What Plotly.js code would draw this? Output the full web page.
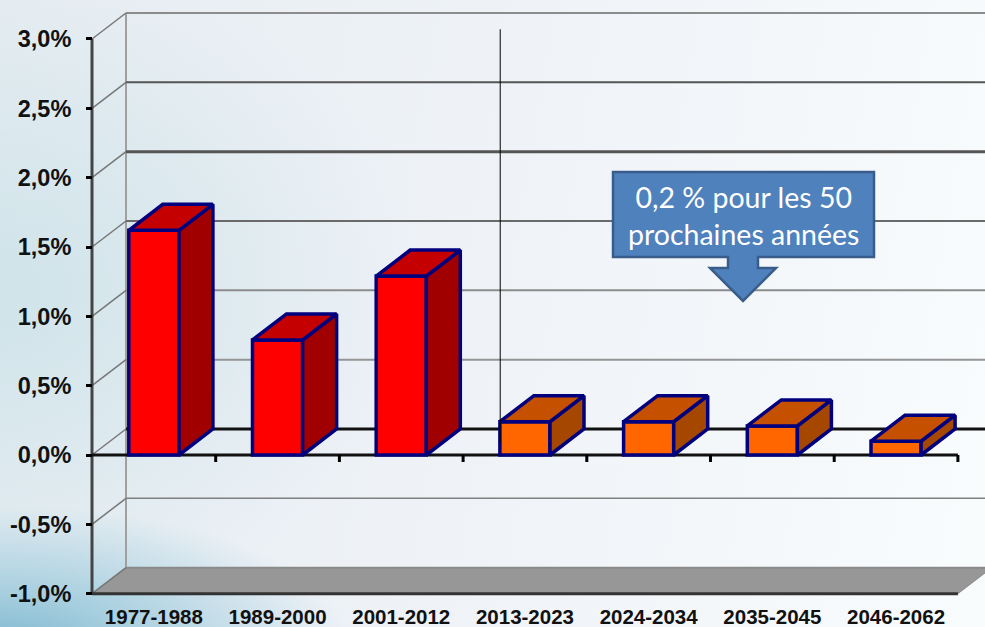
<!DOCTYPE html>
<html>
<head>
<meta charset="utf-8">
<script src="https://cdn.plot.ly/plotly-3.0.1.min.js"></script>
<style>
html,body{margin:0;padding:0;width:985px;height:627px;overflow:hidden;}
body{background:
 radial-gradient(ellipse 350px 140px at 0px 645px, rgba(125,184,207,.98) 0%, rgba(155,201,219,.8) 40%, rgba(205,228,236,0) 100%),
 radial-gradient(ellipse 420px 330px at 0px 290px, rgba(203,226,232,.85) 0%, rgba(220,234,240,0) 100%),
 linear-gradient(100deg, #e7edf2 0%, #eef2f7 45%, #f9fcfd 100%);}
#chart{width:985px;height:627px;}
</style>
</head>
<body>
<div id="chart"></div>
<script>
const categories = ["1977-1988","1989-2000","2001-2012","2013-2023","2024-2034","2035-2045","2046-2062"];
const growth = [1.62, 0.83, 1.29, 0.24, 0.24, 0.21, 0.1];
const historical = [0, 1, 2];
const projected = [3, 4, 5, 6];
const yTicks = [-1, -0.5, 0, 0.5, 1, 1.5, 2, 2.5, 3];
const yLabels = ["-1,0%","-0,5%","0,0%","0,5%","1,0%","1,5%","2,0%","2,5%","3,0%"];
const gridColors = ["#8a8a8a","#808080","#111111","#959595","#8c8c8c","#6a6a6a","#555555","#555555","#8c8c8c"];
const gridWidths = [2, 1.5, 3, 2, 2, 2, 3, 2, 2];

// chart geometry (pseudo-3D depth expressed in axis units)
const W = 985, H = 627, AX = 92, CAT = 123.7, Y0 = 455, UNIT = 138.67, BOT = 27;
const DX = 34 / CAT, DY = 26 / UNIT, BW = 0.405;
const xLo = -0.5 - AX / CAT, xHi = -0.5 + (W - AX) / CAT;
const yHi = Y0 / UNIT, yLo = -(H - BOT - Y0) / UNIT;
const xL = -0.5, xR = categories.length - 0.5;
const NAVY = "#00007f";

function poly(indexes, corners) {
  const xs = [], ys = [];
  indexes.forEach(i => {
    corners(i, growth[i]).forEach(p => { xs.push(p[0]); ys.push(p[1]); });
    xs.push(null); ys.push(null);
  });
  return {x: xs, y: ys};
}
const sideCorners = (i, v) => {
  const r = i + BW / 2;
  return [[r, 0], [r + DX, DY], [r + DX, v + DY], [r, v], [r, 0]];
};
const topCorners = (i, v) => {
  const l = i - BW / 2, r = i + BW / 2;
  return [[l, v], [r, v], [r + DX, v + DY], [l + DX, v + DY], [l, v]];
};
function face(indexes, corners, color, name) {
  const p = poly(indexes, corners);
  return {type: "scatter", mode: "lines", x: p.x, y: p.y, fill: "toself", fillcolor: color,
    line: {color: NAVY, width: 3.5, shape: "linear"}, hoverinfo: "skip", showlegend: false, name: name};
}

const traces = [
  {type: "bar", x: categories.map((c, i) => i), y: growth, width: BW,
   marker: {color: growth.map((v, i) => historical.includes(i) ? "#ff0000" : "#ff6600"),
            line: {color: NAVY, width: 3.5}},
   showlegend: false, textposition: "none", customdata: categories,
   hovertemplate: "%{customdata}: %{y}%<extra></extra>"},
  face(historical, sideCorners, "#a00000", "side"),
  face(historical, topCorners, "#c40000", "top"),
  face(projected, sideCorners, "#a64700", "side"),
  face(projected, topCorners, "#c45000", "top")
];

const shapes = [];
const seg = (x0, y0, x1, y1, color, width, layer) => shapes.push({type: "line", xref: "x", yref: "y",
  x0, y0, x1, y1, line: {color, width}, layer: layer || "below"});

// floor
shapes.push({type: "path", xref: "x", yref: "y", layer: "below", fillcolor: "#979797",
  line: {color: "#8a8a8a", width: 1},
  path: `M${xL},-1 L${xR},-1 L${xR + DX},${-1 + DY} L${xL + DX},${-1 + DY} Z`});
// back wall vertical + grid + side wall diagonals
seg(xL + DX, -1 + DY, xL + DX, 3 + DY, "#a0a0a0", 2);
yTicks.forEach((t, k) => {
  seg(xL + DX, t + DY, xHi, t + DY, gridColors[k], gridWidths[k]);
  seg(xL, t, xL + DX, t + DY, "#777777", 1.5);
});
// main axes
seg(xL, -1, xL, 3, "#444444", 3);
seg(xL, 0, xR, 0, "#111111", 3);
seg(xL, -1, xR, -1, "#333333", 3);
categories.forEach((c, i) => seg(i + 0.5, 0, i + 0.5, -7 / UNIT, "#000000", 3));

// divider between observed and projected periods
seg(2.8, 3.07, 2.8, 0.09, "#000000", 1, "above");

// callout (positions in pixels of the slide, converted to paper fractions)
const px = (x, y) => `${(x / W).toFixed(5)},${(1 - y / (H - BOT)).toFixed(5)}`;
const callout = [[613,172],[874,172],[874,257],[758,257],[758,268],[776,268],[743,301],[710,268],[728,268],[728,257],[613,257]];
shapes.push({type: "path", xref: "paper", yref: "paper", layer: "above", fillcolor: "#4f81bd",
  line: {color: "#385d8a", width: 2.5},
  path: "M" + callout.map(p => px(p[0], p[1])).join(" L") + " Z"});

const layout = {
  width: W, height: H, margin: {l: 0, r: 0, t: 0, b: BOT, pad: 0},
  paper_bgcolor: "rgba(0,0,0,0)", plot_bgcolor: "rgba(0,0,0,0)",
  showlegend: false, bargap: 0,
  xaxis: {range: [xLo, xHi], tickmode: "array", tickvals: categories.map((c, i) => i), ticktext: categories,
    showgrid: false, zeroline: false, showline: false, ticks: "", ticklabelstandoff: 2,
    tickangle: 0, tickfont: {family: "Liberation Sans, Arial, sans-serif", size: 20.5, color: "#111111", weight: 700}},
  yaxis: {range: [yLo, yHi], anchor: "free", position: AX / W, side: "left",
    tickmode: "array", tickvals: yTicks, ticktext: yLabels, ticklabelstandoff: 10,
    showgrid: false, zeroline: false, showline: false, ticks: "outside", ticklen: 6, tickwidth: 3, tickcolor: "#000000",
    tickfont: {family: "Liberation Sans, Arial, sans-serif", size: 23.5, color: "#111111", weight: 700}},
  shapes: shapes,
  annotations: [{xref: "paper", yref: "paper", x: 743.5 / W, y: 1 - 215 / (H - BOT), xanchor: "center", yanchor: "middle", showarrow: false,
    text: "0,2 % pour les 50<br>prochaines années", align: "center",
    font: {family: "Lato, sans-serif", size: 28.5, color: "#ffffff"}}]
};
Plotly.newPlot("chart", traces, layout, {displayModeBar: false, staticPlot: true});
</script>
</body>
</html>
